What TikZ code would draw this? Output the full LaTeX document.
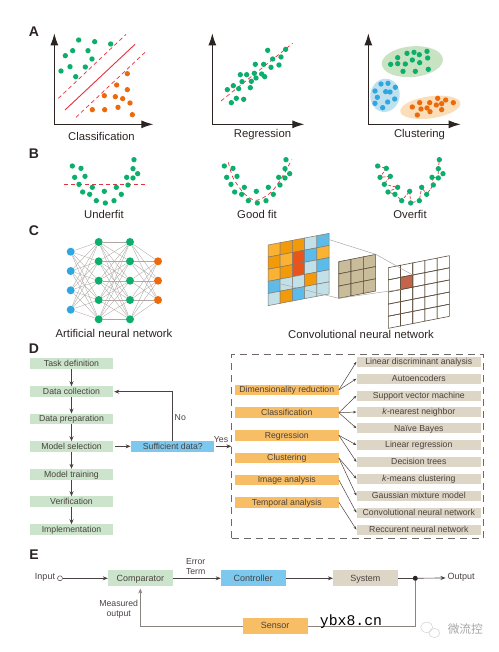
\documentclass[tikz,border=0pt]{standalone}
\usepackage{fontspec}
\setmainfont{Liberation Sans}
\newfontfamily\cjk{Noto Sans CJK SC}
\newfontfamily\webmono{Liberation Mono}
\usetikzlibrary{arrows.meta,calc,positioning}
\definecolor{ink}{HTML}{2B2422}
\definecolor{soft}{HTML}{4A4240}
\definecolor{muted}{HTML}{8A8380}
\definecolor{redline}{HTML}{E6303F}
\definecolor{dotgreen}{HTML}{0BAE6B}
\definecolor{dotblue}{HTML}{2EA7E0}
\definecolor{dotorange}{HTML}{EC6A0C}
\definecolor{boxgreen}{HTML}{CBE4CB}
\definecolor{boxblue}{HTML}{7CC8EE}
\definecolor{boxtan}{HTML}{DDD6C6}
\definecolor{boxorange}{HTML}{F8BE66}
\definecolor{patchgreen}{HTML}{C8E3C2}
\definecolor{patchblue}{HTML}{BFE1EF}
\definecolor{patchorange}{HTML}{FADDB9}
\definecolor{celly}{HTML}{F9B233}
\definecolor{cello}{HTML}{F39A0B}
\definecolor{cellr}{HTML}{E8551B}
\definecolor{celll}{HTML}{C2E0E8}
\definecolor{cellb}{HTML}{5BBCEB}
\definecolor{gridline}{HTML}{7F7870}
\definecolor{kerneltan}{HTML}{C9BC9A}
\definecolor{kernelline}{HTML}{5E5140}
\definecolor{outcell}{HTML}{C4644A}
\begin{document}
\begin{tikzpicture}[x=1pt,y=-1pt,
    seclabel/.style={font=\fontsize{14}{16}\selectfont\bfseries,text=ink,inner sep=0pt},
    caption/.style={font=\fontsize{11.3}{13}\selectfont,text=ink,inner sep=0pt},
    axis/.style={ink,line width=1pt,{Latex[length=12pt,width=8pt]}-{Latex[length=12pt,width=8pt]}},
    fitline/.style={redline,line width=0.7pt,dash pattern=on 4pt off 3pt},
    unit/.style={circle,minimum size=8pt,inner sep=0pt,fill=#1},
    synapse/.style={muted!70,line width=0.35pt},
    stepbox/.style={fill=#1,minimum height=10.5pt,inner sep=0pt,text=soft,text height=7.6pt,text depth=1.8pt,font=\fontsize{8.7}{10}\selectfont},
    leftbox/.style={stepbox=boxgreen,minimum width=83pt},
    taskbox/.style={stepbox=boxorange,minimum width=103.7pt},
    algobox/.style={stepbox=boxtan,minimum width=124.3pt,minimum height=10pt},
    ctrlbox/.style={stepbox=#1,minimum width=64.6pt,minimum height=16pt,font=\fontsize{9}{10}\selectfont},
    flow/.style={soft,line width=0.8pt,-{Stealth[length=5pt,width=4pt]}},
    branch/.style={soft,line width=0.5pt,-{Stealth[length=3.5pt,width=2.6pt]}},
    note/.style={inner sep=0pt,text=soft,font=\fontsize{8.7}{10}\selectfont,align=center},
  ]
  \useasboundingbox (0,0) rectangle (498,652);

  \node[seclabel] (secA) at (34,32) {A};
  \node[seclabel] (secB) at (34,154) {B};
  \node[seclabel] (secC) at (34,231) {C};
  \node[seclabel] (secD) at (34,349) {D};
  \node[seclabel] (secE) at (34,555) {E};

  \begin{scope}[scale=1/3]
    \draw[axis] (163,100) -- (163,373) -- (460,373);
    \draw[axis] (637,100) -- (637,373) -- (913,373);
    \draw[axis] (1105,100) -- (1105,373) -- (1382,373);
    \draw[redline,line width=0.9pt] (195,330) -- (405,133);
    \draw[fitline] (175,295) -- (378,103);
    \draw[fitline] (228,352) -- (435,157);
    \foreach \px/\py in {236/120,284/125,332/132,218/152,264/152,196/167,276/177,210/200,256/201,183/213,227/230}
      \fill[dotgreen] (\px,\py) circle (8);
    \foreach \px/\py in {382/221,350/255,382/269,313/287,346/290,368/296,390/309,277/329,314/329,354/322,397/344}
      \fill[dotorange] (\px,\py) circle (8);
    \draw[fitline] (663,303) -- (878,130);
    \foreach \px/\py in {857/148,803/151,843/171,818/177,766/193,791/193,837/195,813/202,721/224,740/224,763/220,785/222,794/230,768/234,754/244,726/245,751/263,716/266,700/257,682/269,709/295,731/298,694/308}
      \fill[dotgreen] (\px,\py) circle (8);
    \fill[patchgreen,rotate around={5:(1237,185)}] (1237,185) ellipse (92 and 46);
    \fill[patchblue,rotate around={-10:(1155,286)}] (1155,286) ellipse (44 and 50);
    \fill[patchorange,rotate around={8:(1291,322)}] (1291,322) ellipse (91 and 33);
    \foreach \px/\py in {1221/160,1242/157,1258/164,1281/154,1193/173,1283/174,1237/180,1259/188,1172/193,1193/191,1216/192,1209/214,1246/214,1285/208}
      \fill[dotgreen] (\px,\py) circle (8);
    \foreach \px/\py in {1143/252,1164/250,1186/262,1125/273,1157/275,1170/276,1132/292,1184/297,1163/306,1125/310,1148/323}
      \fill[dotblue] (\px,\py) circle (8);
    \foreach \px/\py in {1313/295,1337/300,1259/308,1289/308,1309/315,1325/311,1360/308,1237/321,1263/327,1281/324,1325/329,1290/335,1252/345}
      \fill[dotorange] (\px,\py) circle (8);
  \end{scope}
  \node[caption] (lblclass) at (101.5,136) {Classification};
  \node[caption] (lblregr) at (262.5,135) {Regression};
  \node[caption] (lblclust) at (419.5,135) {Clustering};

  \begin{scope}[shift={(0,145)},scale=1/3]
    \draw[fitline] (193,118) -- (435,118);
    \draw[fitline] plot[smooth] coordinates {(685,52) (700,100) (735,148) (770,166) (815,140) (850,90) (875,44)};
    \draw[fitline,dash pattern=on 3pt off 1.5pt] (1133,63) -- (1159,70) -- (1140,97) -- (1171,94) -- (1152,118) -- (1193,127) -- (1164,141) -- (1186,148) -- (1205,167) -- (1229,139) -- (1232,174) -- (1258,167) -- (1265,127) -- (1280,148) -- (1300,120) -- (1297,97) -- (1315,99) -- (1315,71) -- (1318,44);
    \foreach \ox in {0,456,916}
      \foreach \px/\py in {402/44,217/63,243/70,399/71,413/86,224/97,255/94,380/97,399/99,237/118,384/120,277/127,349/127,313/139,248/141,269/148,364/148,289/167,342/167,316/174}
        \fill[dotgreen] ({\ox+\px},\py) circle (8);
  \end{scope}
  \node[caption] (lblunder) at (104,214) {Underfit};
  \node[caption] (lblgood) at (257,214) {Good fit};
  \node[caption] (lblover) at (410,214) {Overfit};

  \foreach \i/\y in {1/251.7,2/271,3/290.3,4/309.7}
    \node[unit=dotblue] (in\i) at (70.7,\y) {};
  \foreach \i/\y in {1/242,2/261.3,3/280.7,4/300,5/319.3} {
    \node[unit=dotgreen] (hida\i) at (98.7,\y) {};
    \node[unit=dotgreen] (hidb\i) at (130,\y) {};
  }
  \foreach \i/\y in {1/261.3,2/280.7,3/300}
    \node[unit=dotorange] (out\i) at (158,\y) {};
  \foreach \j in {1,...,5} {
    \foreach \i in {1,...,4}
      \draw[synapse] (in\i) -- (hida\j);
    \foreach \i in {1,...,5}
      \draw[synapse] (hida\i) -- (hidb\j);
    \foreach \i in {1,...,3}
      \draw[synapse] (hidb\j) -- (out\i);
  }
  \node[caption] (lblann) at (114,333) {Artificial neural network};

  \foreach \r/\cols in {0/{y,o,o,l,b},1/{o,y,r,b,y},2/{y,o,r,l,b},3/{b,l,l,o,l},4/{l,o,b,l,l}}
    \foreach \cc [count=\c from 0] in \cols
      \filldraw[fill=cell\cc,draw=gridline,line width=0.5pt]
        ({268+\c*12.2},{245+\r*12.13-\c*2.33}) -- ++(12.2,-2.33) -- ++(0,12.13) -- ++(-12.2,2.33) -- cycle;
  \foreach \r in {0,1,2}
    \foreach \c in {0,1,2}
      \filldraw[fill=kerneltan,draw=kernelline,line width=0.6pt]
        ({338.7+\c*12.33},{261.7+\r*12.2-\c*2.44}) -- ++(12.33,-2.44) -- ++(0,12.2) -- ++(-12.33,2.44) -- cycle;
  \foreach \r in {0,...,4}
    \foreach \c in {0,...,4}
      \draw[kernelline,line width=0.6pt]
        ({388.3+\c*12.2},{267.7+\r*12.13-\c*2.4}) -- ++(12.2,-2.4) -- ++(0,12.13) -- ++(-12.2,2.4) -- cycle;
  \filldraw[fill=outcell,draw=kernelline,line width=0.6pt] (400.5,277.4) -- (412.7,275) -- (412.7,287.1) -- (400.5,289.5) -- cycle;
  \coordinate (srcTop) at (316.7,235.7);
  \coordinate (srcLow) at (268,280.7);
  \coordinate (kerTop) at (375.7,254.3);
  \coordinate (kerLow) at (338.7,298.3);
  \coordinate (dstTop) at (412.7,275);
  \coordinate (dstLow) at (400.5,289.5);
  \draw[muted!70,line width=0.5pt] (srcTop) -- (kerTop) -- (dstTop);
  \draw[muted!70,line width=0.5pt] (srcLow) -- (kerLow) -- (dstLow);
  \node[caption] (lblcnn) at (361,334) {Convolutional neural network};

  \node[leftbox] (task) at (71.5,363.7) {Task definition};
  \node[leftbox] (collect) at (71.5,391.7) {Data collection};
  \node[leftbox] (prep) at (71.5,419) {Data preparation};
  \node[leftbox] (select) at (71.5,446.7) {Model selection};
  \node[leftbox] (train) at (71.5,474.3) {Model training};
  \node[leftbox] (verify) at (71.5,501.7) {Verification};
  \node[leftbox] (deploy) at (71.5,529.7) {Implementation};
  \draw[flow] (task) -- (collect);
  \draw[flow] (collect) -- (prep);
  \draw[flow] (prep) -- (select);
  \draw[flow] (select) -- (train);
  \draw[flow] (train) -- (verify);
  \draw[flow] (verify) -- (deploy);
  \node[stepbox=boxblue,minimum width=83pt] (suff) at (172.8,446.3) {Sufficient data?};
  \draw[flow,shorten <=1.5pt,shorten >=0.5pt] (select.east |- suff) -- (suff);
  \draw[flow,shorten >=1pt] (suff.north) |- (collect);
  \node[note] (lblno) at (180.3,417.7) {No};
  \node[note] (lblyes) at (221,440) {Yes};
  \node[draw=soft!80,dash pattern=on 7pt off 5pt,line width=0.6pt,minimum width=251.6pt,minimum height=184pt,inner sep=0pt] (pool) at (357.5,446.3) {};
  \draw[flow,shorten <=1pt] (suff) -- (pool.west |- suff);

  \node[taskbox] (dimred) at (286.8,390) {Dimensionality reduction};
  \node[taskbox] (classif) at (286.8,412.7) {Classification};
  \node[taskbox] (regress) at (286.8,435.3) {Regression};
  \node[taskbox] (cluster) at (286.8,458) {Clustering};
  \node[taskbox] (image) at (286.8,480) {Image analysis};
  \node[taskbox] (temporal) at (286.8,502.3) {Temporal analysis};
  \node[algobox] (lda) at (418.8,361.7) {Linear discriminant analysis};
  \node[algobox] (autoenc) at (418.8,378.7) {Autoencoders};
  \node[algobox] (svm) at (418.8,395.7) {Support vector machine};
  \node[algobox] (knn) at (418.8,412) {\textit{k}-nearest neighbor};
  \node[algobox] (bayes) at (418.8,428.3) {Naïve Bayes};
  \node[algobox] (linreg) at (418.8,445) {Linear regression};
  \node[algobox] (dtree) at (418.8,462) {Decision trees};
  \node[algobox] (kmeans) at (418.8,478.7) {\textit{k}-means clustering};
  \node[algobox] (gmm) at (418.8,495.7) {Gaussian mixture model};
  \node[algobox] (cnn) at (418.8,512.7) {Convolutional neural network};
  \node[algobox] (rnn) at (418.8,529.7) {Reccurent neural network};
  \foreach \src/\dst in {dimred/lda,dimred/autoenc,classif/svm,classif/knn,classif/bayes,regress/linreg,regress/dtree,cluster/kmeans,cluster/gmm,image/cnn,temporal/rnn}
    \draw[branch] (\src.east) -- (\dst.west);

  \node[ctrlbox=boxgreen] (comp) at (140.3,578.3) {Comparator};
  \node[ctrlbox=boxblue] (ctrl) at (253.2,578.3) {Controller};
  \node[ctrlbox=boxtan] (sys) at (365.4,578.3) {System};
  \node[ctrlbox=boxorange] (sens) at (275.2,626) {Sensor};
  \node[circle,draw=soft,line width=0.5pt,minimum size=5pt,inner sep=0pt] (inpt) at (60,578.3) {};
  \node[note,font=\fontsize{9}{10}\selectfont] (lblin) at (45,577.7) {Input};
  \node[circle,fill=ink,minimum size=5pt,inner sep=0pt] (junc) at (415.3,578.3) {};
  \node[note,anchor=west,font=\fontsize{9}{10}\selectfont] (lblout) at (447.5,577.7) {Output};
  \node[note,font=\fontsize{8.7}{10.5}\selectfont] (lblerr) at (195.7,566.7) {Error\\Term};
  \node[note,font=\fontsize{8.7}{10.5}\selectfont] (lblmeas) at (118.7,609) {Measured\\output};
  \draw[flow,line width=0.6pt] (inpt) -- (comp);
  \draw[flow,line width=0.6pt] (comp) -- (ctrl);
  \draw[flow,line width=0.6pt] (ctrl) -- (sys);
  \draw[soft,line width=0.6pt] (sys) -- (junc);
  \draw[flow,line width=0.6pt,shorten >=2pt] (junc) -- (lblout);
  \draw[muted,line width=0.8pt] (sens) -| (junc);
  \draw[muted,line width=0.8pt,-{Stealth[length=5pt,width=4pt]},shorten >=2pt] (sens) -| (comp);

  \node[inner sep=0pt,font=\webmono\fontsize{14.8}{16}\selectfont,text=black] (webmark) at (351,622) {ybx8.cn};
  \draw[gray!35,line width=0.5pt] (426.7,627.3) ellipse (6 and 5.2);
  \draw[gray!35,line width=0.5pt] (434.3,633) ellipse (5.4 and 4.6);
  \node[inner sep=0pt,font=\cjk\fontsize{11.7}{13}\selectfont,text=gray!70] (wxmark) at (465.3,629.3) {微流控};
\end{tikzpicture}
\end{document}
